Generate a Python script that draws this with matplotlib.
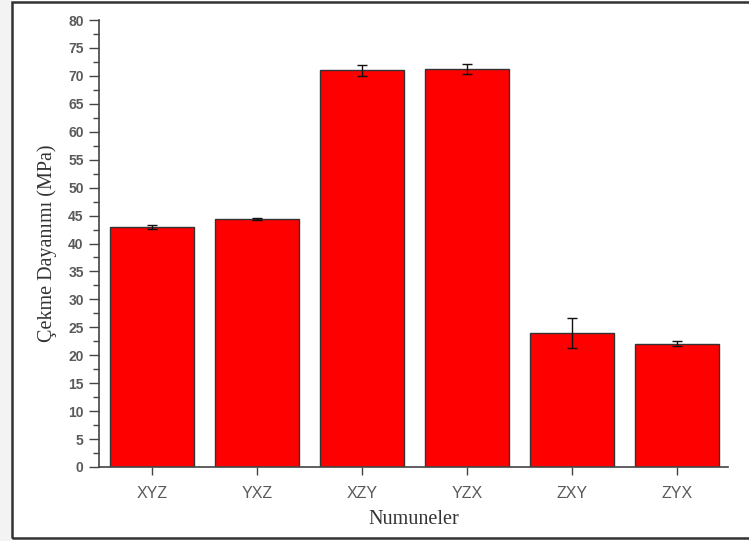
import matplotlib
matplotlib.use("Agg")
import matplotlib.pyplot as plt
from matplotlib.patches import Rectangle
from matplotlib.ticker import MultipleLocator

samples = ["XYZ", "YXZ", "XZY", "YZX", "ZXY", "ZYX"]
strength = [43.0, 44.4, 71.0, 71.2, 24.0, 22.1]
strength_err = [0.4, 0.2, 1.0, 0.85, 2.7, 0.4]
y_ticks = list(range(0, 81, 5))

fig = plt.figure(figsize=(7.49, 5.41), dpi=100)
fig.patch.set_facecolor("white")

# light margin on the left and outer frame
fig.add_artist(Rectangle((0, 0), 0.016, 1, transform=fig.transFigure,
                         facecolor="#f3f3f3", edgecolor="none", zorder=0))
fig.add_artist(Rectangle((0.016, 0.006), 1.2, 0.99, transform=fig.transFigure,
                         facecolor="none", edgecolor="#333333", linewidth=1.8, zorder=5))

ax = fig.add_axes([0.1322, 0.1368, 0.972 - 0.1322, 0.963 - 0.1368])
x = list(range(len(samples)))
ax.bar(x, strength, width=0.8, color="#ff0000", edgecolor="#333333", linewidth=1.0,
       yerr=strength_err, capsize=3.5,
       error_kw=dict(ecolor="#111111", elinewidth=1.0, capthick=1.0))

ax.set_xlim(-0.505, 5.485)
ax.set_ylim(0, 80)
ax.set_xticks(x)
ax.set_xticklabels(samples)
ax.set_yticks(y_ticks)
ax.yaxis.set_minor_locator(MultipleLocator(2.5))

for s in ("top", "right"):
    ax.spines[s].set_visible(False)
for s in ("left", "bottom"):
    ax.spines[s].set_color("#444444")
    ax.spines[s].set_linewidth(1.2)

ax.tick_params(axis="y", which="major", direction="out", length=7, width=1.0,
               color="#444444", labelsize=10, labelcolor="#5a5a5a", pad=4)
ax.tick_params(axis="y", which="minor", direction="out", length=4, width=1.0, color="#444444")
ax.tick_params(axis="x", which="major", direction="out", length=6, width=1.0,
               color="#444444", labelsize=11.5, labelcolor="#5a5a5a", pad=8)
for lbl in ax.get_yticklabels():
    lbl.set_fontfamily("Liberation Sans")
    lbl.set_fontweight("bold")
for lbl in ax.get_xticklabels():
    lbl.set_fontfamily("Liberation Sans")

ax.set_ylabel("Çekme Dayanımı (MPa)", fontfamily="Liberation Serif", fontsize=14.5,
              color="#333333", labelpad=8)
ax.set_xlabel("Numuneler", fontfamily="Liberation Serif", fontsize=14.5,
              color="#333333", labelpad=6)

fig.savefig("out.png", dpi=100, facecolor=fig.get_facecolor())
